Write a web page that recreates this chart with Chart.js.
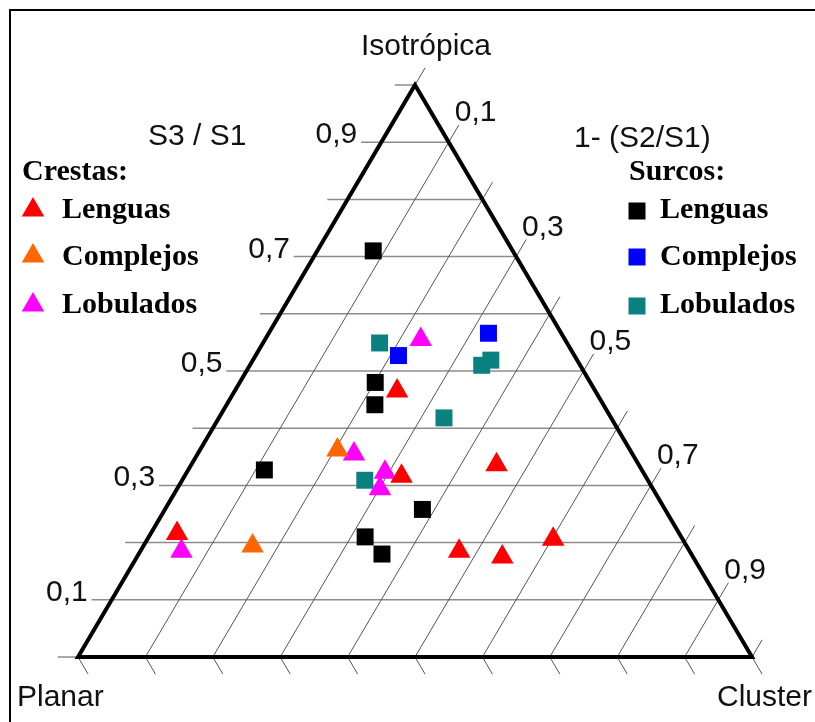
<!DOCTYPE html>
<html>
<head>
<meta charset="utf-8">
<script src="https://cdn.jsdelivr.net/npm/chart.js@4.4.1/dist/chart.umd.min.js"></script>
<style>
  html, body { margin: 0; padding: 0; background: #fff; }
  #wrap { width: 815px; height: 722px; position: relative; }
</style>
</head>
<body>
<div id="wrap"><canvas id="ternary"></canvas></div>
<script>
// each point: [S3/S1, 1-(S2/S1)]
const crestasLenguas = [[0.216, 0.039], [0.465, 0.241], [0.316, 0.322], [0.336, 0.453], [0.185, 0.473], [0.175, 0.542], [0.206, 0.602]];
const crestasComplejos = [[0.362, 0.204], [0.194, 0.162]];
const crestasLobulados = [[0.185, 0.061], [0.555, 0.231], [0.355, 0.232], [0.323, 0.294], [0.294, 0.301]];
const surcosLenguas = [[0.710, 0.083], [0.480, 0.201], [0.441, 0.220], [0.327, 0.113], [0.258, 0.382], [0.210, 0.321], [0.180, 0.361]];
const surcosComplejos = [[0.527, 0.212], [0.566, 0.326]];
const surcosLobulados = [[0.549, 0.173], [0.510, 0.344], [0.519, 0.353], [0.418, 0.334], [0.309, 0.271]];

const gridSteps = [0, 0.1, 0.2, 0.3, 0.4, 0.5, 0.6, 0.7, 0.8, 0.9, 1];
const leftTicks = [0.1, 0.3, 0.5, 0.7, 0.9];   // S3 / S1
const rightTicks = [0.1, 0.3, 0.5, 0.7, 0.9];  // 1- (S2/S1)
const legendNames = ['Lenguas', 'Complejos', 'Lobulados'];

const TICK = 0.03; // tick length beyond the triangle, in axis units

// ternary -> cartesian (Planar at 0,0, Cluster at 1,0, Isotropica at 0.5,1)
function toXY(p) {
  return { x: p[1] + p[0] / 2, y: p[0] };
}

function lineSet(points, color, width, order) {
  return {
    data: points,
    showLine: true,
    borderColor: color,
    borderWidth: width,
    pointRadius: 0,
    fill: false,
    clip: false,
    order: order
  };
}

const datasets = [];

const markers = [
  { data: crestasLenguas, color: '#ff0000', style: 'triangle' },
  { data: crestasComplejos, color: '#ff6600', style: 'triangle' },
  { data: crestasLobulados, color: '#ff00ff', style: 'triangle' },
  { data: surcosLenguas, color: '#000000', style: 'rect' },
  { data: surcosComplejos, color: '#0000ff', style: 'rect' },
  { data: surcosLobulados, color: '#0b8080', style: 'rect' }
];

markers.forEach(m => {
  datasets.push({
    data: m.data.map(toXY),
    pointStyle: m.style,
    pointRadius: m.style === 'rect' ? 12 : 13,
    backgroundColor: m.color,
    borderColor: m.color,
    borderWidth: 0,
    clip: false,
    order: 0
  });
});

// horizontal grid (S3/S1), with a tick past the left edge
gridSteps.forEach(h => {
  datasets.push(lineSet([{ x: h / 2 - TICK, y: h }, { x: 1 - h / 2, y: h }], '#8c8c8c', 1.5, 3));
});

// slanted grid (1-(S2/S1)), parallel to the left edge, with ticks at both ends
gridSteps.forEach(t => {
  const top = 1 - t + TICK;
  datasets.push(lineSet([{ x: t, y: 0 }, { x: t + top / 2, y: top }], '#555555', 1, 2));
  datasets.push(lineSet([{ x: t, y: 0 }, { x: t + TICK / 2, y: -TICK }], '#555555', 1, 2));
});

// triangle outline
datasets.push(Object.assign(lineSet([{ x: 0, y: 0 }, { x: 1, y: 0 }, { x: 0.5, y: 1 }, { x: 0, y: 0 }, { x: 1, y: 0 }], '#000000', 4, 1), {
  borderJoinStyle: 'miter'
}));

function fmt(v) {
  return v.toFixed(1).replace('.', ',');
}

function drawMarker(ctx, style, color, x, y) {
  ctx.fillStyle = color;
  ctx.beginPath();
  if (style === 'triangle') {
    const r = 13;
    ctx.moveTo(x, y - r);
    ctx.lineTo(x + r * Math.sin(Math.PI / 3), y + r / 2);
    ctx.lineTo(x - r * Math.sin(Math.PI / 3), y + r / 2);
    ctx.closePath();
  } else {
    ctx.rect(x - 8.5, y - 8.5, 17, 17);
  }
  ctx.fill();
}

const ternaryText = {
  id: 'ternaryText',
  afterDraw(chart) {
    const ctx = chart.ctx;
    const xs = chart.scales.x;
    const ys = chart.scales.y;
    ctx.save();

    // frame
    ctx.strokeStyle = '#000';
    ctx.lineWidth = 2;
    ctx.beginPath();
    ctx.moveTo(815, 10);
    ctx.lineTo(10, 10);
    ctx.lineTo(10, 722);
    ctx.stroke();

    ctx.fillStyle = '#111';
    ctx.font = '30px "Liberation Sans", Arial, sans-serif';
    ctx.textBaseline = 'alphabetic';

    const apexX = xs.getPixelForValue(0.5);
    const apexY = ys.getPixelForValue(1);
    const baseY = ys.getPixelForValue(0);

    ctx.textAlign = 'center';
    ctx.fillText('Isotrópica', apexX + 11, apexY - 30);
    ctx.textAlign = 'left';
    ctx.fillText('S3 / S1', 148, 145);
    ctx.fillText('1- (S2/S1)', 574, 147);
    ctx.fillText('Planar', 17, baseY + 49);
    ctx.fillText('Cluster', 717, baseY + 49);

    // S3/S1 labels left of the left edge
    ctx.textAlign = 'right';
    leftTicks.forEach(h => {
      const px = xs.getPixelForValue(h / 2);
      const py = ys.getPixelForValue(h);
      ctx.fillText(fmt(h), px - 24, py + 1);
    });

    // 1-(S2/S1) labels past the right edge
    ctx.textAlign = 'left';
    rightTicks.forEach(t => {
      const h = 1 - t;
      const px = xs.getPixelForValue(1 - h / 2);
      const py = ys.getPixelForValue(h);
      ctx.fillText(fmt(t), px + 6, py - 21);
    });

    // legends
    ctx.font = 'bold 30px "Liberation Serif", "Times New Roman", serif';
    ctx.fillStyle = '#000';
    ctx.fillText('Crestas:', 22, 180);
    ctx.fillText('Surcos:', 629, 180);
    const rowMarkY = [210, 256, 305];
    const rowTextY = [218, 265, 313];
    legendNames.forEach((name, i) => {
      drawMarker(ctx, 'triangle', markers[i].color, 33, rowMarkY[i]);
      drawMarker(ctx, 'rect', markers[i + 3].color, 637, rowMarkY[i] + 1);
      ctx.fillStyle = '#000';
      ctx.fillText(name, 62, rowTextY[i]);
      ctx.fillText(name, 660, rowTextY[i]);
    });

    ctx.restore();
  }
};

new Chart(document.getElementById('ternary'), {
  type: 'scatter',
  data: { datasets: datasets },
  options: {
    responsive: true,
    maintainAspectRatio: false,
    animation: false,
    layout: { padding: { left: 78, right: 63, top: 85, bottom: 65 } },
    scales: {
      x: { type: 'linear', min: 0, max: 1, display: false },
      y: { type: 'linear', min: 0, max: 1, display: false }
    },
    plugins: {
      legend: { display: false },
      tooltip: { enabled: false }
    }
  },
  plugins: [ternaryText]
});
</script>
</body>
</html>
